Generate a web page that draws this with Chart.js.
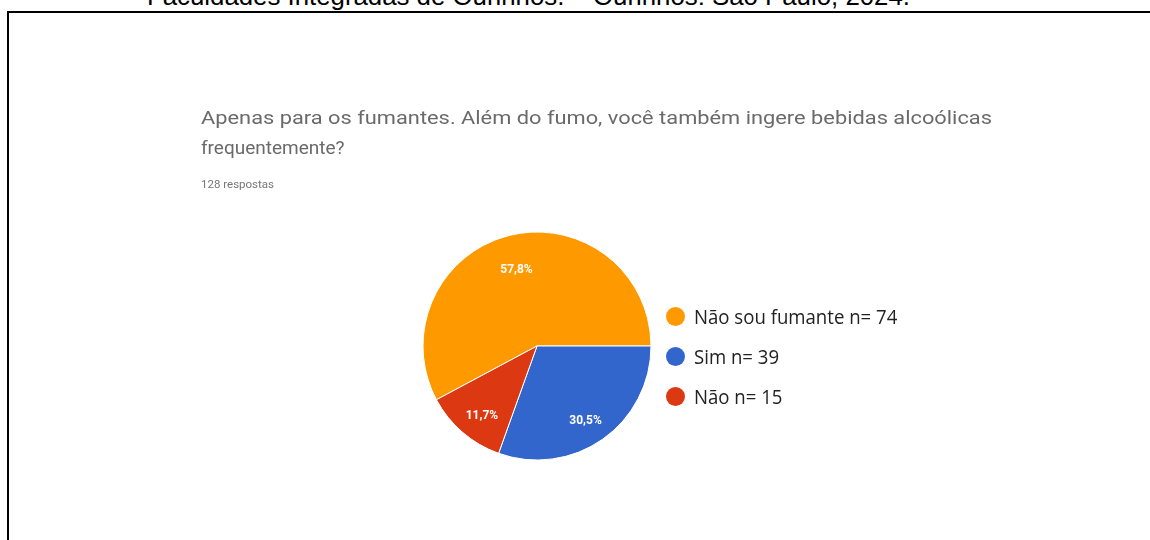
<!DOCTYPE html>
<html>
<head>
<meta charset="utf-8">
<script src="https://cdn.jsdelivr.net/npm/chart.js@4/dist/chart.umd.min.js"></script>
<style>
  html, body { margin: 0; padding: 0; background: #fff; }
  body { width: 1150px; height: 540px; overflow: hidden; position: relative; }
  #frame { position: absolute; left: 7px; top: 11px; width: 1200px; height: 600px;
           border-top: 2px solid #000; border-left: 2px solid #000; }
  #texts { position: absolute; left: 0; top: 0; }
  .soft { filter: blur(0.6px); }
  #pieBox { position: absolute; left: 417px; top: 226px; width: 240px; height: 240px; }
  #legend { position: absolute; left: 666px; top: 296px; }
  .row { display: flex; align-items: center; height: 40px; }
  .dot { width: 19px; height: 19px; border-radius: 50%; margin-right: 9px; flex: none; }
  .lbl { font-family: "Open Sans", sans-serif; font-size: 20px; color: #222; white-space: nowrap;
         display: inline-block; transform: scaleX(0.93); transform-origin: left center; }
</style>
</head>
<body>
<div id="frame"></div>
<svg id="texts" width="1150" height="540">
  <text x="147" y="5" font-family="Liberation Sans, Arial, sans-serif" font-size="25.8" fill="#000">Faculdades Integradas de Ourinhos. – Ourinhos: São Paulo, 2024.</text>
  <g class="soft" font-family="Roboto, sans-serif" fill="#6a6a6a">
    <text x="201" y="124" font-size="19" textLength="791" lengthAdjust="spacingAndGlyphs">Apenas para os fumantes. Além do fumo, você também ingere bebidas alcoólicas</text>
    <text x="201" y="154" font-size="19">frequentemente?</text>
    <text x="201" y="188" font-size="11.5" fill="#777">128 respostas</text>
  </g>
</svg>
<div id="pieBox" class="soft"><canvas id="pie"></canvas></div>
<div id="legend" class="soft"></div>

<script>
// Answers and their counts
const categories = ['Não sou fumante', 'Sim', 'Não'];
const counts = [74, 39, 15];
const sliceColors = ['#ff9900', '#3366cc', '#dc3912'];

const total = counts.reduce((a, b) => a + b, 0);
const legendLabels = categories.map((c, i) => `${c} n= ${counts[i]}`);

// first slice ends at 3 o'clock, the rest follow clockwise
const startRotation = 90 - 360 * counts[0] / total;

// percentage written inside each slice
const percentLabels = {
  id: 'percentLabels',
  afterDatasetsDraw(chart) {
    const { ctx } = chart;
    const meta = chart.getDatasetMeta(0);
    ctx.save();
    ctx.font = 'bold 12px Roboto, sans-serif';
    ctx.fillStyle = '#ffffff';
    ctx.textAlign = 'center';
    ctx.textBaseline = 'top';
    meta.data.forEach((arc, i) => {
      const p = arc.getProps(['x', 'y', 'startAngle', 'endAngle', 'outerRadius'], true);
      const mid = (p.startAngle + p.endAngle) / 2;
      const r = p.outerRadius * 0.74;
      const txt = (counts[i] / total * 100).toFixed(1).replace('.', ',') + '%';
      ctx.fillText(txt, p.x + Math.cos(mid) * r, p.y + Math.sin(mid) * r);
    });
    ctx.restore();
  }
};

const chart = new Chart(document.getElementById('pie'), {
  type: 'pie',
  data: {
    labels: legendLabels,
    datasets: [{
      data: counts,
      backgroundColor: sliceColors,
      borderColor: '#ffffff',
      borderWidth: 1,
      radius: 114
    }]
  },
  options: {
    responsive: true,
    maintainAspectRatio: false,
    animation: false,
    rotation: startRotation,
    layout: { padding: 0 },
    plugins: {
      legend: { display: false },
      tooltip: { enabled: false }
    }
  },
  plugins: [percentLabels]
});

// legend built from the chart's own legend items
const legendEl = document.getElementById('legend');
const items = Chart.overrides.pie.plugins.legend.labels.generateLabels(chart);
items.forEach(item => {
  const row = document.createElement('div');
  row.className = 'row';
  const dot = document.createElement('span');
  dot.className = 'dot';
  dot.style.background = item.fillStyle;
  const lbl = document.createElement('span');
  lbl.className = 'lbl';
  lbl.textContent = item.text;
  row.appendChild(dot);
  row.appendChild(lbl);
  legendEl.appendChild(row);
});
</script>
</body>
</html>
